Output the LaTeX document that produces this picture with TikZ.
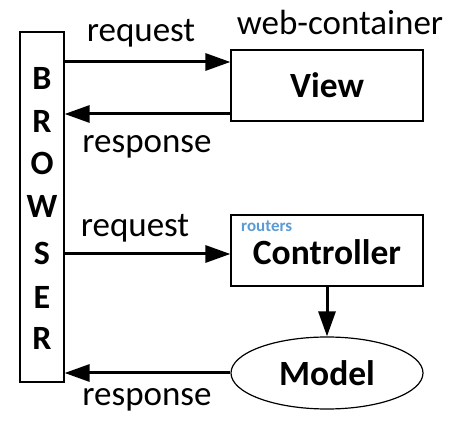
\documentclass[tikz,border=0pt]{standalone}
\usepackage{fontspec}
\setmainfont{Carlito}
\usetikzlibrary{arrows.meta,shapes.geometric}
\definecolor{routerblue}{HTML}{5B9BD5}
\tikzset{
  box/.style={draw, line width=1.2pt, minimum width=192pt, minimum height=71pt, inner sep=0pt},
  arr/.style={line width=3pt, -{Triangle[length=25pt,width=17pt]}},
  lbl/.style={font=\fontsize{35}{38}\selectfont, inner sep=0pt},
  big/.style={font=\fontsize{35.5}{38}\selectfont\bfseries, inner sep=0pt},
  letter/.style={font=\fontsize{34}{36}\selectfont\bfseries, inner sep=0pt},
}
\begin{document}
\begin{tikzpicture}[x=1pt,y=1pt]
\useasboundingbox (0,0) rectangle (462,427);
\node[draw, line width=1.2pt, minimum width=44pt, minimum height=350pt, inner sep=0pt] (browser) at (42,220) {};
\node[letter] (b1) at (42,349) {B};
\node[letter] (b2) at (42,306) {R};
\node[letter] (b3) at (42,264) {O};
\node[letter] (b4) at (42,221) {W};
\node[letter] (b5) at (42,174) {S};
\node[letter] (b6) at (42,130) {E};
\node[letter] (b7) at (42,89) {R};
\node[box, big] (view) at (327,341.5) {View};
\node[box] (ctrl) at (327,176.5) {};
\node[big] (ctrltext) at (327,175) {Controller};
\node[draw, ellipse, line width=1.2pt, minimum width=192pt, minimum height=72pt, inner sep=0pt, big] (model) at (327,54) {Model};
\node[lbl] (webc) at (340,405) {web-container};
\node[lbl] (req1) at (141,394) {request};
\node[lbl] (resp1) at (147,280) {response};
\node[lbl] (req2) at (135,199) {request};
\node[lbl] (resp2) at (147,27) {response};
\node[anchor=west, inner sep=0pt, text=routerblue, font=\fontsize{17}{19}\selectfont\bfseries] (routers) at (241,201) {routers};
\coordinate (r1) at (0,365);
\coordinate (s1) at (0,313);
\coordinate (r2) at (0,173);
\draw[arr] (browser.east|-r1) -- (view.west|-r1);
\draw[arr] (view.west|-s1) -- (browser.east|-s1);
\draw[arr] (browser.east|-r2) -- (ctrl.west|-r2);
\draw[arr] (ctrl.south) -- (model.north);
\draw[arr] (model.west) -- (browser.east|-model.west);
\end{tikzpicture}
\end{document}
